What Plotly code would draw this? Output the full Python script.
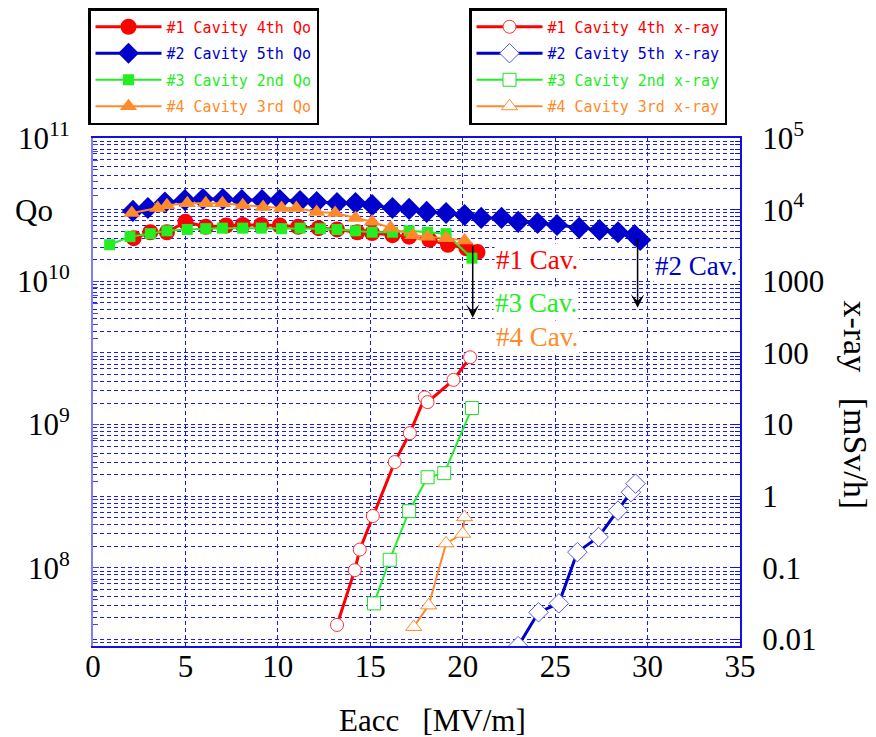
import plotly.graph_objects as go
import numpy as np

# ---------------- data ----------------
# Qo (left axis)
c1_qo_x = [2.2, 3.1, 4.0, 5.0, 6.1, 7.2, 8.1, 9.1, 10.1, 11.1, 12.2, 13.2, 14.3, 15.1, 16.2, 17.1, 18.2, 19.2, 20.2, 20.8]
c1_qo_y = [2.0e10, 2.2e10, 2.2e10, 2.6e10, 2.4e10, 2.45e10, 2.47e10, 2.47e10, 2.45e10, 2.4e10, 2.35e10, 2.3e10, 2.2e10, 2.17e10, 2.1e10, 2.05e10, 1.95e10, 1.8e10, 1.7e10, 1.6e10]

c2_qo_x = [2.16, 2.97, 3.89, 4.97, 5.95, 7.03, 8.05, 9.14, 10.1, 11.2, 12.1, 13.2, 14.2, 15.1, 16.2, 17.1, 18.05, 19.1, 20.1, 21.0, 22.1, 23.0, 24.05, 25.1, 26.3, 27.4, 28.4, 29.3, 29.6]
c2_qo_y = [3.1e10, 3.25e10, 3.55e10, 3.69e10, 3.75e10, 3.75e10, 3.69e10, 3.69e10, 3.69e10, 3.63e10, 3.57e10, 3.52e10, 3.52e10, 3.4e10, 3.25e10, 3.2e10, 3.05e10, 3.0e10, 2.9e10, 2.77e10, 2.77e10, 2.6e10, 2.55e10, 2.47e10, 2.36e10, 2.28e10, 2.2e10, 2.1e10, 1.94e10]

c3_qo_x = [0.9, 2.0, 3.1, 4.0, 5.1, 6.1, 7.0, 8.1, 9.1, 10.2, 11.2, 12.3, 13.2, 14.2, 15.1, 16.2, 17.1, 18.1, 19.1, 20.5]
c3_qo_y = [1.8e10, 2.05e10, 2.15e10, 2.25e10, 2.3e10, 2.33e10, 2.35e10, 2.35e10, 2.35e10, 2.33e10, 2.35e10, 2.33e10, 2.3e10, 2.25e10, 2.2e10, 2.2e10, 2.25e10, 2.2e10, 2.15e10, 1.45e10]

c4_qo_x = [2.1, 3.5, 4.0, 5.1, 6.1, 7.0, 8.1, 9.2, 10.2, 11.0, 12.1, 13.1, 14.2, 15.1, 16.1, 17.3, 18.1, 19.1, 20.1]
c4_qo_y = [3.0e10, 3.25e10, 3.4e10, 3.5e10, 3.5e10, 3.5e10, 3.4e10, 3.3e10, 3.25e10, 3.25e10, 3.05e10, 3.0e10, 2.77e10, 2.6e10, 2.36e10, 2.1e10, 2.05e10, 2.0e10, 1.93e10]

# x-ray (right axis, mSv/h)
c1_xr_x = [13.2, 14.16, 14.43, 15.14, 16.32, 17.14, 17.95, 18.1, 19.5, 20.4]
c1_xr_y = [0.016, 0.093, 0.18, 0.53, 3.0, 7.6, 24, 20.6, 42, 87]

c2_xr_x = [23.0, 24.1, 25.2, 26.2, 27.35, 28.4, 29.1, 29.35]
c2_xr_y = [0.0081, 0.024, 0.032, 0.166, 0.27, 0.63, 1.14, 1.5]

c3_xr_x = [15.2, 16.05, 17.1, 18.1, 19.0, 20.5]
c3_xr_y = [0.032, 0.13, 0.62, 1.84, 2.1, 17]

c4_xr_x = [17.35, 18.16, 19.1, 20.0, 20.1]
c4_xr_y = [0.015, 0.030, 0.22, 0.30, 0.51]

left_tickvals = [1e8, 1e9, 1e10, 1e11]
left_ticktext = ["10<sup>8</sup>", "10<sup>9</sup>", "10<sup>10</sup>", "10<sup>11</sup>"]
right_tickvals = [0.01, 0.1, 1, 10, 100, 1000, 1e4, 1e5]
right_ticktext = ["0.01", "0.1", "1", "10", "100", "1000", "10<sup>4</sup>", "10<sup>5</sup>"]

RED = "#ff0000"
BLUE = "#0000cc"
GREEN = "#22ee22"
ORANGE = "#ff8a2a"
GRID = "#1a1aee"
SERIF = "Liberation Serif"
LEGFONT = "DejaVu Sans Mono"
DASH = "4px,3px"

fig = go.Figure()

# Qo traces (drawing order: blue, red, green, orange)
fig.add_trace(go.Scatter(x=c2_qo_x, y=c2_qo_y, mode="lines+markers", name="<span style='color:#0000cc'>#2 Cavity 5th Qo</span>",
                         line=dict(color=BLUE, width=3), marker=dict(symbol="diamond", size=17, color=BLUE),
                         legend="legend", legendrank=2, legendgroup="a2"))
fig.add_trace(go.Scatter(x=c1_qo_x, y=c1_qo_y, mode="lines+markers", name="<span style='color:#ff0000'>#1 Cavity 4th Qo</span>",
                         line=dict(color=RED, width=3), marker=dict(symbol="circle", size=16, color=RED),
                         legend="legend", legendrank=1, legendgroup="a1"))
fig.add_trace(go.Scatter(x=c3_qo_x, y=c3_qo_y, mode="lines+markers", name="<span style='color:#22ee22'>#3 Cavity 2nd Qo</span>",
                         line=dict(color=GREEN, width=2), marker=dict(symbol="square", size=11, color=GREEN),
                         legend="legend", legendrank=3, legendgroup="a3"))
fig.add_trace(go.Scatter(x=c4_qo_x, y=c4_qo_y, mode="lines+markers", name="<span style='color:#ff8a2a'>#4 Cavity 3rd Qo</span>",
                         line=dict(color=ORANGE, width=2), marker=dict(symbol="triangle-up", size=15, color=ORANGE),
                         legend="legend", legendrank=4, legendgroup="a4"))

# x-ray traces
fig.add_trace(go.Scatter(x=c1_xr_x, y=c1_xr_y, mode="lines+markers", name="<span style='color:#ff0000'>#1 Cavity 4th x-ray</span>",
                         line=dict(color=RED, width=3), marker=dict(symbol="circle", size=13, color="white", line=dict(color="#ff3030", width=1)),
                         yaxis="y2", legend="legend2", legendrank=1, legendgroup="b1"))
fig.add_trace(go.Scatter(x=c2_xr_x, y=c2_xr_y, mode="lines+markers", name="<span style='color:#0000cc'>#2 Cavity 5th x-ray</span>",
                         line=dict(color=BLUE, width=3), marker=dict(symbol="diamond", size=15, color="white", line=dict(color="#5a5aee", width=1)),
                         yaxis="y2", legend="legend2", legendrank=2, legendgroup="b2"))
fig.add_trace(go.Scatter(x=c3_xr_x, y=c3_xr_y, mode="lines+markers", name="<span style='color:#22ee22'>#3 Cavity 2nd x-ray</span>",
                         line=dict(color=GREEN, width=2), marker=dict(symbol="square", size=13, color="white", line=dict(color="#22dd22", width=1)),
                         yaxis="y2", legend="legend2", legendrank=3, legendgroup="b3"))
fig.add_trace(go.Scatter(x=c4_xr_x, y=c4_xr_y, mode="lines+markers", name="<span style='color:#ff8a2a'>#4 Cavity 3rd x-ray</span>",
                         line=dict(color=ORANGE, width=2), marker=dict(symbol="triangle-up", size=14, color="white", line=dict(color="#ff8a2a", width=1)),
                         yaxis="y2", legend="legend2", legendrank=4, legendgroup="b4"))

minor_vals_right = [m * 10.0 ** e for e in range(-3, 5) for m in range(2, 10)]
minor_vals_left = [m * 10.0 ** e for e in range(7, 11) for m in range(2, 10)]

fig.update_layout(
    width=876, height=737,
    margin=dict(l=93, r=136, t=138, b=91, autoexpand=False),
    paper_bgcolor="white", plot_bgcolor="white",
    showlegend=True,
    xaxis=dict(range=[0, 35], dtick=5, tick0=0,
               tickfont=dict(family=SERIF, size=31, color="black"), ticklabelstandoff=-8,
               showgrid=True, gridcolor=GRID, griddash=DASH, gridwidth=1,
               showline=True, linecolor="#1010e0", linewidth=2, mirror=True,
               zeroline=False, ticks=""),
    yaxis=dict(type="log", range=[7.455, 11],
               tickvals=left_tickvals, ticktext=left_ticktext,
               tickfont=dict(family=SERIF, size=31, color="black"), ticklabelstandoff=15,
               showgrid=True, gridcolor=GRID, griddash=DASH, gridwidth=1,
               showline=True, linecolor="#8080ee", linewidth=2,
               ticks="inside", ticklen=6, tickcolor="#4040ee",
               minor=dict(tickvals=minor_vals_left, ticks="inside", ticklen=5, tickcolor="#4040ee", showgrid=False),
               zeroline=False),
    yaxis2=dict(type="log", range=[-2.09, 5], overlaying="y", side="right",
                tickvals=right_tickvals, ticktext=right_ticktext,
                tickfont=dict(family=SERIF, size=31, color="black"), ticklabelstandoff=14,
                showgrid=True, gridcolor=GRID, griddash=DASH, gridwidth=1,
                showline=True, linecolor="#1010e0", linewidth=2,
                ticks="inside", ticklen=8, tickcolor="#1010e0",
                minor=dict(tickvals=minor_vals_right, ticks="inside", ticklen=5, tickcolor="#1010e0",
                           showgrid=True, gridcolor=GRID, griddash=DASH, gridwidth=1),
                zeroline=False),
    legend=dict(xref="container", yref="container", x=88 / 876, y=1 - 8 / 737, xanchor="left", yanchor="top",
                bordercolor="black", borderwidth=2.5, bgcolor="white",
                font=dict(family=LEGFONT, size=15), tracegroupgap=4, itemwidth=66),
    legend2=dict(xref="container", yref="container", x=469 / 876, y=1 - 8 / 737, xanchor="left", yanchor="top",
                 bordercolor="black", borderwidth=2.5, bgcolor="white",
                 font=dict(family=LEGFONT, size=15), tracegroupgap=4, itemwidth=66),
)

# axis labels as annotations
fig.add_annotation(text="Qo", xref="paper", yref="paper", x=-0.124, y=0.858, xanchor="left", yanchor="middle",
                   showarrow=False, font=dict(family=SERIF, size=31, color="black"))
fig.add_annotation(text="x-ray\u00a0\u00a0\u00a0[mSv/h]", xref="paper", yref="paper", x=1.179, y=0.474, textangle=90,
                   xanchor="center", yanchor="middle",
                   showarrow=False, font=dict(family=SERIF, size=34, color="black"))
fig.add_annotation(text="Eacc\u00a0\u00a0\u00a0[MV/m]", xref="paper", yref="paper", x=0.524, y=-0.146,
                   xanchor="center", yanchor="middle",
                   showarrow=False, font=dict(family=SERIF, size=31, color="black"))

# cavity labels
labels = [("#1 Cav.", 24.0, 3.30, RED), ("#2 Cav.", 32.6, 3.21, BLUE), ("#3 Cav.", 23.95, 2.70, GREEN), ("#4 Cav.", 24.0, 2.22, ORANGE)]
for t, xx, yy, col in labels:
    fig.add_annotation(text=t, x=xx, y=yy, xref="x", yref="y2", showarrow=False, bgcolor="white",
                       font=dict(family=SERIF, size=27, color=col))

# arrows
for xx, y0, y1 in [(20.54, 3.51, 2.49), (29.46, 3.62, 2.63)]:
    fig.add_annotation(x=xx, y=y1, ax=xx, ay=y0, xref="x", yref="y2", axref="x", ayref="y2",
                       showarrow=True, arrowhead=3, arrowsize=1.5, arrowwidth=1.5, arrowcolor="black", text="")

fig.write_html("out.html")
